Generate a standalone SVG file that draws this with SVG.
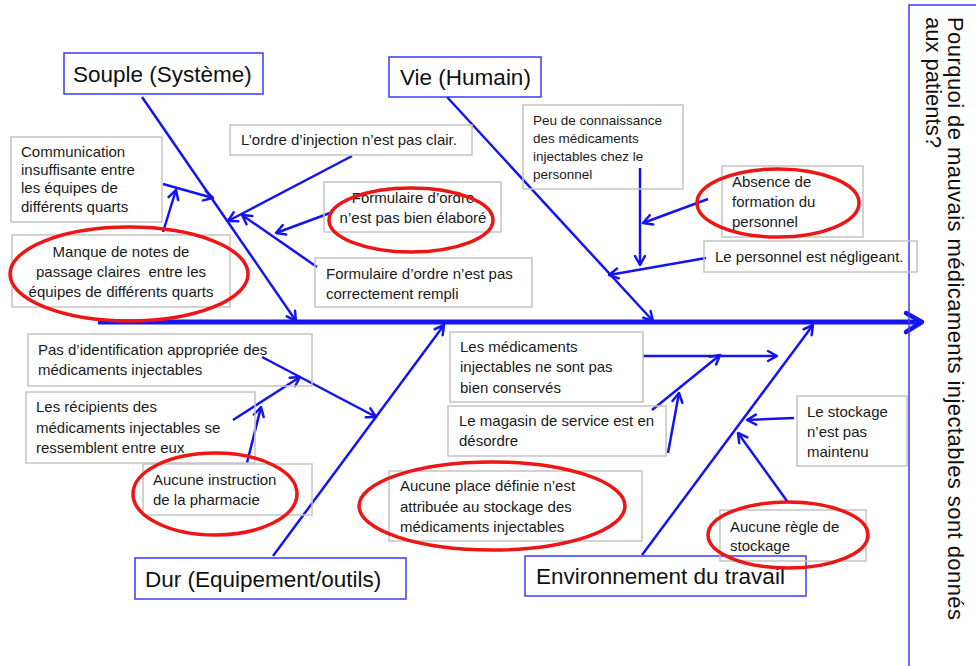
<svg xmlns="http://www.w3.org/2000/svg" width="976" height="666" viewBox="0 0 976 666">
<style>
.bg{fill:#ffffff}
.cat{fill:none;stroke:#3a3aff;stroke-width:1.5}
.box{fill:none;stroke:#c4c4c4;stroke-width:1.5}
.oval{fill:none;stroke:#ee1515;stroke-width:3.5}
.bone{stroke:#1414f0;stroke-width:2.5;fill:none;marker-end:url(#ah)}
.spine{stroke:#1414f0;stroke-width:5;fill:none}
.t{font-family:"Liberation Sans",Arial,sans-serif;font-size:15px;fill:#1a1a1a}
.ts{font-family:"Liberation Sans",Arial,sans-serif;font-size:13.5px;fill:#1a1a1a}
.tc{font-family:"Liberation Sans",Arial,sans-serif;font-size:22.5px;fill:#111111}
.tr{font-family:"Liberation Sans",Arial,sans-serif;font-size:22px;fill:#111111}
</style>
<defs>
<marker id="ah" markerWidth="14" markerHeight="14" refX="11" refY="7" orient="auto" markerUnits="userSpaceOnUse">
<path d="M2,2 L11,7 L2,12" fill="none" stroke="#1414f0" stroke-width="2.5" stroke-linecap="round" stroke-linejoin="round"/>
</marker>
</defs>
<rect class="bg" x="0" y="0" width="976" height="666"/>

<g id="connectors">
<line class="spine" x1="98" y1="322" x2="921" y2="322"/>
<polyline points="906,313 922,322 906,332" fill="none" stroke="#1414f0" stroke-width="4.5" stroke-linecap="round" stroke-linejoin="round"/>
<line class="bone" x1="142" y1="97" x2="296" y2="321"/>
<line class="bone" x1="447" y1="97" x2="653" y2="321"/>
<line class="bone" x1="273" y1="556" x2="444" y2="325"/>
<line class="bone" x1="642" y1="555" x2="813" y2="325"/>
<line class="bone" x1="163" y1="184" x2="213" y2="198"/>
<line class="bone" x1="163" y1="232" x2="176" y2="190"/>
<line class="bone" x1="352" y1="156" x2="228" y2="221"/>
<line class="bone" x1="330" y1="213" x2="276" y2="233"/>
<line class="bone" x1="317" y1="267" x2="242" y2="215"/>
<line class="bone" x1="640" y1="168" x2="640" y2="265"/>
<line class="bone" x1="708" y1="199" x2="643" y2="223"/>
<line class="bone" x1="706" y1="258" x2="609" y2="275"/>
<line class="bone" x1="262" y1="357" x2="376" y2="417"/>
<line class="bone" x1="233" y1="420" x2="300" y2="377"/>
<line class="bone" x1="247" y1="463" x2="261" y2="407"/>
<line class="bone" x1="643" y1="356" x2="777" y2="356"/>
<line class="bone" x1="652" y1="410" x2="720" y2="355"/>
<line class="bone" x1="668" y1="453" x2="679" y2="393"/>
<line class="bone" x1="794" y1="418" x2="747" y2="420"/>
<line class="bone" x1="787" y1="501" x2="738" y2="433"/>
</g>

<g id="effect">
<rect class="cat" x="909" y="5" width="80" height="700"/>
<g transform="translate(948,17) rotate(90)">
<text class="tr" x="0" y="0" textLength="603" lengthAdjust="spacing">Pourquoi de mauvais médicaments injectables sont donnés</text>
<text class="tr" x="0" y="22">aux patients?</text>
</g>
</g>

<g id="cat-souple">
<rect class="cat" x="64" y="53" width="199" height="41"/>
<text class="tc" x="73" y="82">Souple (Système)</text>
</g>
<g id="cat-vie">
<rect class="cat" x="389" y="57" width="152" height="40"/>
<text class="tc" x="400" y="85">Vie (Humain)</text>
</g>
<g id="cat-dur">
<rect class="cat" x="135" y="558" width="271" height="41"/>
<text class="tc" x="145" y="587">Dur (Equipement/outils)</text>
</g>
<g id="cat-env">
<rect class="cat" x="525" y="556" width="281" height="40"/>
<text class="tc" x="536" y="584">Environnement du travail</text>
</g>

<g id="n-communication">
<rect class="box" x="11" y="137" width="151" height="85"/>
<text class="t" x="21" y="157">Communication</text>
<text class="t" x="21" y="175">insuffisante entre</text>
<text class="t" x="21" y="193">les équipes de</text>
<text class="t" x="21" y="212">différents quarts</text>
</g>
<g id="n-manque">
<rect class="box" x="12" y="235" width="218" height="72"/>
<text class="t" x="121" y="257" text-anchor="middle">Manque de notes de</text>
<text class="t" x="121" y="277" text-anchor="middle" xml:space="preserve">passage claires  entre les</text>
<text class="t" x="121" y="297" text-anchor="middle">équipes de différents quarts</text>
<ellipse class="oval" cx="129" cy="274" rx="119" ry="47"/>
</g>
<g id="n-ordre">
<rect class="box" x="230" y="125" width="242" height="30"/>
<text class="t" x="241" y="145">L’ordre d’injection n’est pas clair.</text>
</g>
<g id="n-elabore">
<rect class="box" x="324" y="182" width="177" height="50"/>
<text class="t" x="413" y="203" text-anchor="middle">Formulaire d’ordre</text>
<text class="t" x="413" y="223" text-anchor="middle">n’est pas bien élaboré</text>
<ellipse class="oval" cx="411" cy="220" rx="82" ry="32"/>
</g>
<g id="n-rempli">
<rect class="box" x="315" y="258" width="217" height="49"/>
<text class="t" x="326" y="279">Formulaire d’ordre n’est pas</text>
<text class="t" x="326" y="299">correctement rempli</text>
</g>

<g id="n-connaissance">
<rect class="box" x="523" y="105" width="160" height="84"/>
<text class="ts" x="533" y="125">Peu de connaissance</text>
<text class="ts" x="533" y="143">des médicaments</text>
<text class="ts" x="533" y="161">injectables chez le</text>
<text class="ts" x="533" y="179">personnel</text>
</g>
<g id="n-formation">
<rect class="box" x="722" y="166" width="141" height="71"/>
<text class="t" x="732" y="187">Absence de</text>
<text class="t" x="732" y="207">formation du</text>
<text class="t" x="732" y="227">personnel</text>
<ellipse class="oval" cx="778" cy="203" rx="81" ry="34"/>
</g>
<g id="n-negligeant">
<rect class="box" x="704" y="241" width="213" height="31"/>
<text class="t" x="715" y="262">Le personnel est négligeant.</text>
</g>

<g id="n-identification">
<rect class="box" x="28" y="334" width="284" height="52"/>
<text class="t" x="38" y="355">Pas d’identification appropriée des</text>
<text class="t" x="38" y="375">médicaments injectables</text>
</g>
<g id="n-recipients">
<rect class="box" x="26" y="392" width="229" height="71"/>
<text class="t" x="36" y="412">Les récipients des</text>
<text class="t" x="36" y="433">médicaments injectables se</text>
<text class="t" x="36" y="453">ressemblent entre eux</text>
</g>
<g id="n-instruction">
<rect class="box" x="143" y="464" width="169" height="51"/>
<text class="t" x="153" y="485">Aucune instruction</text>
<text class="t" x="153" y="505">de la pharmacie</text>
<ellipse class="oval" cx="215" cy="494" rx="82" ry="41"/>
</g>

<g id="n-conserves">
<rect class="box" x="450" y="332" width="193" height="70"/>
<text class="t" x="460" y="352">Les médicaments</text>
<text class="t" x="460" y="372">injectables ne sont pas</text>
<text class="t" x="460" y="393">bien conservés</text>
</g>
<g id="n-magasin">
<rect class="box" x="448" y="406" width="218" height="50"/>
<text class="t" x="459" y="426">Le magasin de service est en</text>
<text class="t" x="459" y="446">désordre</text>
</g>
<g id="n-place">
<rect class="box" x="389" y="471" width="253" height="70"/>
<text class="t" x="400" y="491">Aucune place définie n’est</text>
<text class="t" x="400" y="512">attribuée au stockage des</text>
<text class="t" x="400" y="532">médicaments injectables</text>
<ellipse class="oval" cx="492" cy="506" rx="133" ry="44"/>
</g>
<g id="n-maintenu">
<rect class="box" x="797" y="396" width="110" height="70"/>
<text class="t" x="807" y="417">Le stockage</text>
<text class="t" x="807" y="437">n’est pas</text>
<text class="t" x="807" y="457">maintenu</text>
</g>
<g id="n-regle">
<rect class="box" x="720" y="510" width="146" height="51"/>
<text class="t" x="730" y="532">Aucune règle de</text>
<text class="t" x="730" y="551">stockage</text>
<ellipse class="oval" cx="788" cy="535" rx="80" ry="33"/>
</g>
</svg>
